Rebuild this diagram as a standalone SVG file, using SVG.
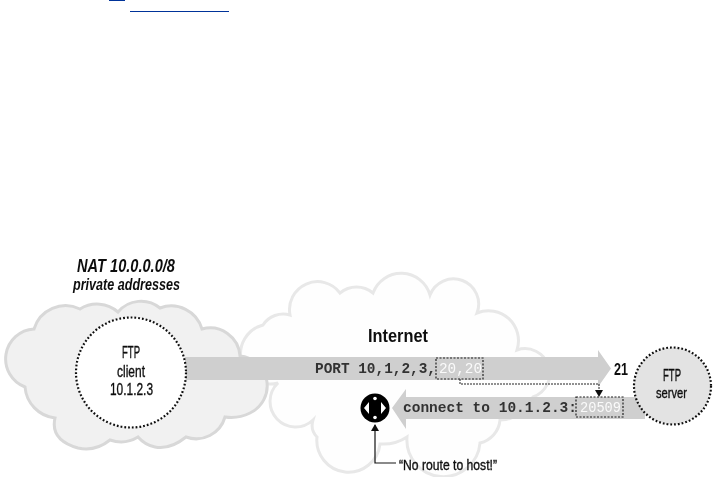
<svg xmlns="http://www.w3.org/2000/svg" width="713" height="477" viewBox="0 0 713 477">
<style>
.t{font-family:"Liberation Sans",Arial,sans-serif;font-weight:bold;fill:#111}
.n{font-weight:normal;stroke:#111;stroke-width:0.35}
.m{font-family:"Liberation Mono","Courier New",monospace;font-weight:bold;font-size:14.4px;fill:#333}
.w{fill:#fafafa;font-weight:normal}
.box{fill:none;stroke:#222;stroke-width:1.2;stroke-dasharray:2 1.5}
.c{stroke:#111;stroke-width:2.2;stroke-dasharray:1.8 2}
.band{fill:#cfcfcf}
</style>
<defs>
<filter id="soft" x="-2%" y="-2%" width="104%" height="104%"><feGaussianBlur stdDeviation="0.5"/></filter>
<marker id="ah" markerWidth="9" markerHeight="9" refX="6" refY="4" orient="auto" markerUnits="userSpaceOnUse"><path d="M0 0L7 4L0 8z" fill="#111"/></marker>
</defs>
<rect width="713" height="477" fill="#fff"/>
<rect x="109" y="0" width="16" height="1" fill="#003399"/>
<rect x="130" y="11" width="99" height="1" fill="#003399"/>
<g filter="url(#soft)">
<g id="cloud-internet"><path d="M263 325A24 24 0 0 1 290 315A28 28 0 0 1 340 293A26 26 0 0 1 373 293A30 30 0 0 1 430 295A25 25 0 0 1 477 313A30 30 0 0 1 517 350A22 22 0 0 1 533 397Q520 420 500 420A26 26 0 0 1 480 443A36 36 0 0 1 407 437Q395 445 380 444A30 30 0 0 1 317 437Q310 430 313 420A24 24 0 0 1 278 383A22 22 0 0 1 263 325Z" fill="#fefefe" stroke="#e8e8e8" stroke-width="3"/></g>
<g id="cloud-nat"><path d="M34 329A33 33 0 0 1 80 309A32 32 0 0 1 118 312A30 30 0 0 1 160 308A32 32 0 0 1 202 329A30 30 0 0 1 240 356A30 30 0 0 1 250 413Q238 419 225 417A30 30 0 0 1 186 437Q170 450 155 447Q145 445 138 437Q125 445 110 440Q95 452 78 448Q50 440 55 418A34 34 0 0 1 25 387A30 30 0 0 1 34 329Z" fill="#f1f1f1" stroke="#d8d8d8" stroke-width="3"/></g>
<g id="connectors">
<path class="band" d="M185 357H598V350L611 368.500L598 387V380H185Z"/>
<path class="band" d="M645 397H406V389L392 408L406 429V419H645Z"/>
<path d="M460 379V384H599V396" fill="none" stroke="#222" stroke-width="1" stroke-dasharray="2 1" marker-end="url(#ah)"/>
<path d="M396 463H375V425" fill="none" stroke="#111" stroke-width="1.2" marker-end="url(#ah)"/>
</g>
<g id="label-port">
<text class="m" x="315" y="373" textLength="121" lengthAdjust="spacingAndGlyphs">PORT 10,1,2,3,</text>
<text class="m w" x="439" y="373" textLength="43" lengthAdjust="spacingAndGlyphs">20,20</text>
<rect class="box" x="436" y="358" width="47" height="21"/>
</g>
<g id="label-connect">
<text class="m" x="403" y="412" textLength="174" lengthAdjust="spacingAndGlyphs">connect to 10.1.2.3:</text>
<text class="m w" x="580" y="412" textLength="41" lengthAdjust="spacingAndGlyphs">20509</text>
<rect class="box" x="576" y="397" width="47" height="20"/>
</g>
<g id="node-client">
<circle class="c" cx="131" cy="372.500" r="55" fill="#fff"/>
<text class="t n" x="122" y="358" font-size="16.500" textLength="18" lengthAdjust="spacingAndGlyphs">FTP</text>
<text class="t n" x="117" y="377" font-size="16" textLength="28" lengthAdjust="spacingAndGlyphs">client</text>
<text class="t n" x="110" y="395" font-size="16.500" textLength="43" lengthAdjust="spacingAndGlyphs">10.1.2.3</text>
</g>
<g id="node-server">
<circle class="c" cx="672.500" cy="386" r="38.500" fill="#e3e3e3"/>
<text class="t n" x="663" y="381" font-size="16" textLength="18" lengthAdjust="spacingAndGlyphs">FTP</text>
<text class="t n" x="656" y="398" font-size="14" textLength="31" lengthAdjust="spacingAndGlyphs">server</text>
</g>
<g id="node-router">
<circle cx="375" cy="408" r="14.500" fill="#000"/>
<circle cx="375" cy="398.500" r="1.800" fill="#fff"/>
<circle cx="375" cy="417.500" r="1.800" fill="#fff"/>
<path d="M364 408L369 402V414ZM386 408L381 402V414Z" fill="#fff"/>
</g>
<g id="labels">
<text class="t" x="77" y="272" font-size="18" font-style="italic" textLength="98" lengthAdjust="spacingAndGlyphs">NAT 10.0.0.0/8</text>
<text class="t" x="73" y="290" font-size="17" font-style="italic" textLength="107" lengthAdjust="spacingAndGlyphs">private addresses</text>
<text class="t" x="368" y="342" font-size="19" textLength="60" lengthAdjust="spacingAndGlyphs">Internet</text>
<text class="t" x="614" y="375" font-size="17" textLength="14" lengthAdjust="spacingAndGlyphs">21</text>
<text class="t n" x="399" y="470" font-size="14" textLength="98" lengthAdjust="spacingAndGlyphs">“No route to host!”</text>
</g>
</g>
</svg>
